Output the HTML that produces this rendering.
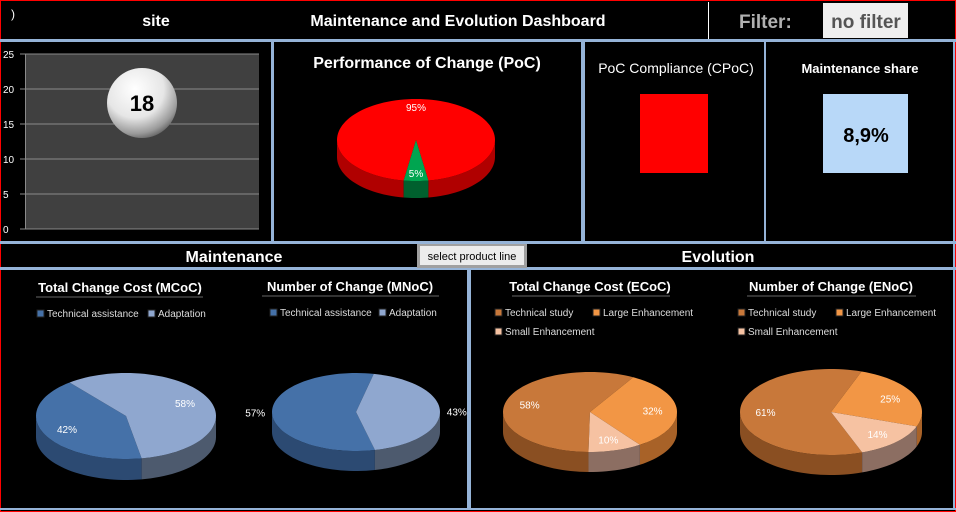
<!DOCTYPE html>
<html><head><meta charset="utf-8"><style>
html,body{margin:0;padding:0;background:#000;}
svg{display:block;font-family:"Liberation Sans",Arial,sans-serif;}
</style></head><body>
<svg id="s" width="956" height="512" viewBox="0 0 956 512">
<defs>
<radialGradient id="ball" cx="0.4" cy="0.3" r="0.75">
<stop offset="0" stop-color="#ffffff"/><stop offset="0.55" stop-color="#e6e6e6"/><stop offset="0.85" stop-color="#9a9a9a"/><stop offset="1" stop-color="#5a5a5a"/>
</radialGradient>
</defs>
<rect x="0.5" y="0.5" width="955" height="511" fill="#000" stroke="#ff0000" stroke-width="1"/>
<!-- header -->
<text x="11" y="18" fill="#fff" font-size="12">)</text>
<text x="156" y="26" fill="#fff" font-size="16" font-weight="bold" text-anchor="middle">site</text>
<text x="458" y="26" fill="#fff" font-size="16" font-weight="bold" text-anchor="middle">Maintenance and Evolution Dashboard</text>
<line x1="708.5" y1="2" x2="708.5" y2="39" stroke="#fff" stroke-width="1"/>
<text x="739" y="28" fill="#b0b0b0" font-size="19" font-weight="bold">Filter:</text>
<g>
<rect x="823" y="3" width="85" height="35" fill="#efefef"/>
<text x="866" y="28" fill="#555" font-size="19" font-weight="bold" text-anchor="middle">no filter</text>
</g>
<!-- separators -->
<g fill="#95b3d7">
<rect x="0" y="39" width="956" height="3"/>
<rect x="271" y="42" width="3" height="200"/>
<rect x="581" y="42" width="4" height="200"/>
<rect x="764" y="42" width="2" height="200"/>
<rect x="0" y="241" width="956" height="3"/>
<rect x="0" y="267" width="956" height="3"/>
<rect x="467" y="270" width="4" height="240"/>
<rect x="0" y="508" width="956" height="2"/>
<rect x="953" y="42" width="2" height="468"/>
</g>
<!-- bar/bubble chart -->
<g id="bubble">
<rect x="25" y="54" width="234" height="175" fill="#404040"/>
</g>
<!-- PoC -->
<text x="427" y="68" fill="#fff" font-size="16" font-weight="bold" text-anchor="middle">Performance of Change (PoC)</text>
<g id="poc"></g>
<!-- CPoC -->
<text x="676" y="73" fill="#fff" font-size="14" text-anchor="middle">PoC Compliance (CPoC)</text>
<rect x="640" y="94" width="68" height="79" fill="#ff0000"/>
<text x="860" y="73" fill="#fff" font-size="13" font-weight="bold" text-anchor="middle">Maintenance share</text>
<rect x="823" y="94" width="85" height="79" fill="#b8d8f8"/>
<text x="866" y="142" fill="#000" font-size="20" font-weight="bold" text-anchor="middle">8,9%</text>
<!-- section headers -->
<text x="234" y="262" fill="#fff" font-size="16" font-weight="bold" text-anchor="middle">Maintenance</text>
<g>
<rect x="417" y="244" width="110" height="24" fill="#a0a0a0"/>
<rect x="420" y="246" width="104" height="19" fill="#ececec"/>
<text x="472" y="260" fill="#000" font-size="11" text-anchor="middle">select product line</text>
</g>
<text x="718" y="262" fill="#fff" font-size="16" font-weight="bold" text-anchor="middle">Evolution</text>
<!-- bottom titles -->
<g font-size="13" font-weight="bold" fill="#fff" text-anchor="middle">
<text x="120" y="292">Total Change Cost  (MCoC)</text>
<text x="350" y="291">Number of Change  (MNoC)</text>
<text x="590" y="291">Total Change Cost  (ECoC)</text>
<text x="831" y="291">Number of Change (ENoC)</text>
</g>
<g stroke="#333" stroke-width="2">
<line x1="36" y1="297" x2="203" y2="297"/><line x1="262" y1="296" x2="439" y2="296"/>
<line x1="512" y1="296" x2="670" y2="296"/><line x1="747" y1="296" x2="916" y2="296"/>
</g>
<g id="legends" font-size="10" fill="#ddd"></g>
<g id="pies"></g>
</svg>
<script>
// bubble chart data
const yTicks = [0, 5, 10, 15, 20, 25];
const bubbleValue = 18;
// pie data
const pocLabels = ['Non compliant', 'Compliant'];
const pocValues = [95, 5];
const mcocLabels = ['Technical assistance', 'Adaptation'];
const mcocValues = [42, 58];
const mnocLabels = ['Technical assistance', 'Adaptation'];
const mnocValues = [57, 43];
const ecocLabels = ['Technical study', 'Large Enhancement', 'Small Enhancement'];
const ecocValues = [58, 32, 10];
const enocLabels = ['Technical study', 'Large Enhancement', 'Small Enhancement'];
const enocValues = [61, 25, 14];

const NS = 'http://www.w3.org/2000/svg';
function mk(tag, attrs, parent) {
  const e = document.createElementNS(NS, tag);
  for (const k in attrs) e.setAttribute(k, attrs[k]);
  parent.appendChild(e);
  return e;
}

// bubble chart
const bub = document.getElementById('bubble');
const yMin = 0, yMax = 25, plotTop = 54, plotBot = 229;
function yScale(v) { return plotBot - (v - yMin) / (yMax - yMin) * (plotBot - plotTop); }
yTicks.forEach(t => {
  const y = yScale(t);
  const gl = mk('line', {x1: 20, x2: 259, y1: y, y2: y, stroke: '#8a8a8a', 'stroke-width': 1}, bub);
  
  
  const tl = mk('text', {x: 3, y: y + 4, fill: '#fff', 'font-size': 10}, bub);
  tl.textContent = t;
  
  
});
const ax = mk('line', {x1: 25.5, x2: 25.5, y1: plotTop, y2: plotBot, stroke: '#8a8a8a'}, bub);


const by = yScale(bubbleValue);
const ball = mk('circle', {cx: 142, cy: by, r: 35, fill: 'url(#ball)'}, bub);


const bt = mk('text', {x: 142, y: by + 8, 'text-anchor': 'middle', 'font-size': 22, 'font-weight': 'bold', fill: '#000'}, bub);
bt.textContent = bubbleValue;



// 3D pie
function pt(p, deg, dy) {
  const r = deg * Math.PI / 180;
  return [p.cx + p.rx * Math.cos(r), p.cy + p.ry * Math.sin(r) + (dy || 0)];
}
function arcPts(p, a0, a1, dy) {
  const out = [], n = Math.max(2, Math.ceil(Math.abs(a1 - a0) / 3));
  for (let i = 0; i <= n; i++) out.push(pt(p, a0 + (a1 - a0) * i / n, dy));
  return out;
}
function drawPie(g, name, p, values, labels, tops, sides) {
  const total = values.reduce((a, b) => a + b, 0);
  const spans = [];
  let a = p.start;
  values.forEach(v => { const b = a + v / total * 360; spans.push([a, b]); a = b; });
  // sides
  spans.forEach((s, i) => {
    [[0, 180], [360, 540], [720, 900]].forEach(f => {
      const s0 = Math.max(s[0], f[0]), s1 = Math.min(s[1], f[1]);
      if (s1 > s0) {
        const pts = arcPts(p, s0, s1, 0).concat(arcPts(p, s1, s0, p.depth));
        const el = mk('polygon', {points: pts.map(q => q.join(',')).join(' '), fill: sides[i]}, g);
        
        
      }
    });
  });
  // tops
  spans.forEach((s, i) => {
    const pts = [[p.cx, p.cy]].concat(arcPts(p, s[0], s[1], 0));
    const el = mk('polygon', {points: pts.map(q => q.join(',')).join(' '), fill: tops[i]}, g);
    
    
  });
  // labels
  spans.forEach((s, i) => {
    const mid = (s[0] + s[1]) / 2;
    const r = mid * Math.PI / 180;
    const f = p.lf || 0.72;
    const x = p.cx + p.rx * f * Math.cos(r), y = p.cy + p.ry * f * Math.sin(r) + 4;
    const t = mk('text', {x: x, y: y, fill: '#fff', 'font-size': 10, 'text-anchor': 'middle'}, g);
    t.textContent = Math.round(values[i] / total * 100) + '%';
    
    
  });
}
const pies = document.getElementById('pies');
function grp(name, parent) {
  const g = mk('g', {}, parent);
  
  
  return g;
}
const blueT = ['#4571a8', '#8fa7cf'], blueS = ['#2c4a72', '#4d5a6e'];
const orT = ['#c8783a', '#f29645', '#f6c2a2'], orS = ['#8a4f22', '#a86228', '#8c6e62'];
drawPie(document.getElementById('poc'), 'poc', {cx: 416, cy: 140, rx: 79, ry: 41, depth: 17, start: 99, lf: 0.8}, pocValues, pocLabels, ['#ff0000', '#00a550'], ['#b00000', '#00602e']);
drawPie(grp('mcoc-pie', pies), 'mcoc', {cx: 126, cy: 416, rx: 90, ry: 43, depth: 21, start: 80}, mcocValues, mcocLabels, blueT, blueS);
drawPie(grp('mnoc-pie', pies), 'mnoc', {cx: 356, cy: 412, rx: 84, ry: 39, depth: 20, start: 77, lf: 1.2}, mnocValues, mnocLabels, blueT, blueS);
drawPie(grp('ecoc-pie', pies), 'ecoc', {cx: 590, cy: 412, rx: 87, ry: 40, depth: 20, start: 91}, ecocValues, ecocLabels, orT, orS);
drawPie(grp('enoc-pie', pies), 'enoc', {cx: 831, cy: 412, rx: 91, ry: 43, depth: 20, start: 70}, enocValues, enocLabels, orT, orS);

// legends
const lg = document.getElementById('legends');
function legend(name, labels, colors, pos) {
  labels.forEach((l, i) => {
    const sq = mk('rect', {x: pos[i][0], y: pos[i][1] - 7, width: 7, height: 7, fill: colors[i], stroke: '#222'}, lg);
    
    
    const t = mk('text', {x: pos[i][0] + 10, y: pos[i][1]}, lg);
    t.textContent = l;
    
    
  });
}
legend('mcoc', mcocLabels, blueT, [[37, 317], [148, 317]]);
legend('mnoc', mnocLabels, blueT, [[270, 316], [379, 316]]);
legend('ecoc', ecocLabels, orT, [[495, 316], [593, 316], [495, 335]]);
legend('enoc', enocLabels, orT, [[738, 316], [836, 316], [738, 335]]);
</script>
</body></html>
